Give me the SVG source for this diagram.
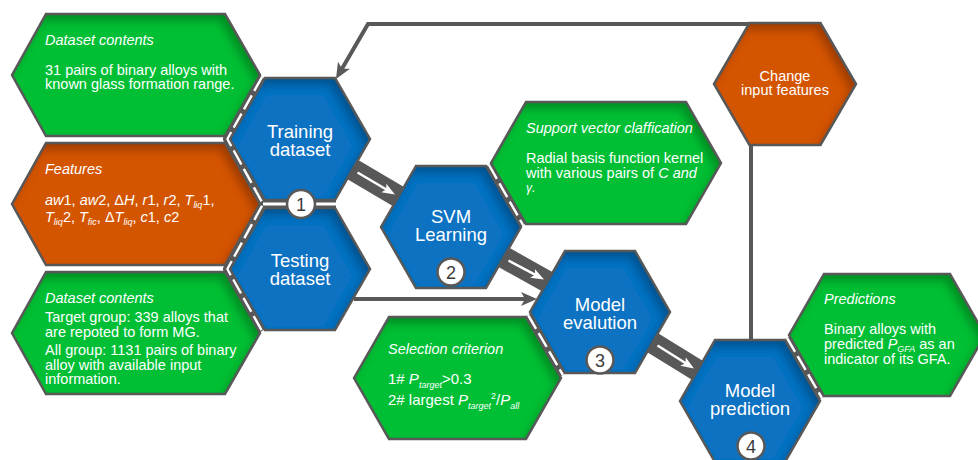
<svg xmlns="http://www.w3.org/2000/svg" width="978" height="460" viewBox="0 0 978 460">
<defs>
<style>
.blue{fill:#0a72c2}
.green{fill:#05bf36}
.orange{fill:#d45500}
.edge{fill:none;stroke:#585858;stroke-width:2.5;stroke-linejoin:miter}
.t{font-family:"Liberation Sans",Arial,sans-serif;fill:#fff}
.title{font-size:18.5px;text-anchor:middle}
.body{font-size:14.5px}
.it{font-style:italic}
.num{font-family:"Liberation Sans",Arial,sans-serif;font-size:18px;fill:#3a3a3a;text-anchor:middle}
.circ{fill:#fff;stroke:#585858;stroke-width:2.5}
.gap{fill:none;stroke:#585858;stroke-width:9;stroke-linejoin:round}
.gapw{fill:none;stroke:#fff;stroke-width:2.5;stroke-dasharray:16 5;stroke-linejoin:round}
.thick{stroke:#585858;stroke-width:22;fill:none}
.warr{stroke:#fff;stroke-width:2.5;fill:none;marker-end:url(#wh)}
.garr{stroke:#585858;stroke-width:4;fill:none;stroke-linejoin:miter}
</style>
<filter id="ish" x="-10%" y="-10%" width="120%" height="120%">
<feGaussianBlur in="SourceAlpha" stdDeviation="5" result="b"/>
<feOffset in="b" dx="-5" dy="7" result="o"/>
<feComposite in="SourceAlpha" in2="o" operator="out" result="inv"/>
<feFlood flood-color="#000" flood-opacity="0.5"/>
<feComposite in2="inv" operator="in" result="sh"/>
<feMerge><feMergeNode in="SourceGraphic"/><feMergeNode in="sh"/></feMerge>
</filter>
<marker id="wh" markerUnits="userSpaceOnUse" viewBox="0 0 14 12" markerWidth="14" markerHeight="12" refX="7" refY="6" orient="auto">
<path d="M0,1 L13,6 L0,11 L3,6 z" fill="#fff"/>
</marker>
<marker id="gh" markerUnits="userSpaceOnUse" viewBox="0 0 16 14" markerWidth="16" markerHeight="14" refX="9" refY="7" orient="auto">
<path d="M0,0 L16,7 L0,14 L4,7 z" fill="#585858"/>
</marker>
</defs>
<rect width="978" height="460" fill="#fff"/>

<g id="connectors">
<path class="gap" d="M262,77 L227.5,139 L263,204 L227.5,269 L262,331"/>
<path class="gapw" d="M262,77 L227.5,139 L263,204 L227.5,269 L262,331"/>
<path class="gap" d="M263,204 L336,204"/>
<path d="M263,204 L336,204" stroke="#fff" stroke-width="3" fill="none"/>
<path class="gap" d="M489,165 L523,225"/>
<path class="gapw" d="M489,165 L523,225"/>
<path class="gap" d="M528,315 L563,375"/>
<path class="gapw" d="M528,315 L563,375"/>
<path class="gap" d="M787,338 L822,398"/>
<path class="gapw" d="M787,338 L822,398"/>
<path class="thick" d="M345,165 L406,201"/>
<path class="thick" d="M496,253 L555,286"/>
<path class="thick" d="M645,338 L705,375"/>
<path class="warr" d="M357.5,172.5 L389.8,191.5"/>
<path class="warr" d="M508.5,260.5 L538.7,276.6"/>
<path class="warr" d="M657.5,345.5 L688.9,365.3"/>
<path class="garr" d="M751,24 L368,24 L339.5,73" marker-end="url(#gh)"/>
<path class="garr" d="M751,145 L751,341"/>
<path class="garr" stroke-width="3.5" d="M354,299 L530,299" marker-end="url(#gh)"/>
</g>

<g id="dataset-training-contents">
<polygon class="green" filter="url(#ish)" points="12,75 46,14 225,14 260,75 225,136 46,136"/>
<polygon class="edge" points="12,75 46,14 225,14 260,75 225,136 46,136"/>
<text class="t body it" x="45" y="45">Dataset contents</text>
<text class="t body" x="45" y="75">31 pairs of binary alloys with</text>
<text class="t body" x="45" y="89">known glass formation range.</text>
</g>

<g id="features">
<polygon class="orange" filter="url(#ish)" points="12,204 46,143 225,143 260,204 225,265 46,265"/>
<polygon class="edge" points="12,204 46,143 225,143 260,204 225,265 46,265"/>
<text class="t body it" x="45" y="174">Features</text>
<text class="t body" x="45" y="205"><tspan class="it">aw</tspan>1, <tspan class="it">aw</tspan>2, Δ<tspan class="it">H</tspan>, <tspan class="it">r</tspan>1, <tspan class="it">r</tspan>2, <tspan class="it">T</tspan><tspan class="it" font-size="9" dy="3">liq</tspan><tspan dy="-3">1,</tspan></text>
<text class="t body" x="45" y="222"><tspan class="it">T</tspan><tspan class="it" font-size="9" dy="3">liq</tspan><tspan dy="-3">2, </tspan><tspan class="it">T</tspan><tspan class="it" font-size="9" dy="3">fic</tspan><tspan dy="-3">, Δ</tspan><tspan class="it">T</tspan><tspan class="it" font-size="9" dy="3">liq</tspan><tspan dy="-3">, </tspan><tspan class="it">c</tspan>1, <tspan class="it">c</tspan>2</text>
</g>

<g id="dataset-testing-contents">
<polygon class="green" filter="url(#ish)" points="12,333 46,272 225,272 260,333 225,394 46,394"/>
<polygon class="edge" points="12,333 46,272 225,272 260,333 225,394 46,394"/>
<text class="t body it" x="45" y="303">Dataset contents</text>
<text class="t body" x="45" y="322">Target group: 339 alloys that</text>
<text class="t body" x="45" y="337">are repoted to form MG.</text>
<text class="t body" x="45" y="355">All group: 1131 pairs of binary</text>
<text class="t body" x="45" y="370">alloy with available input</text>
<text class="t body" x="45" y="384">information.</text>
</g>

<g id="testing-dataset">
<polygon class="blue" filter="url(#ish)" points="230,269 265,208 335,208 370,269 335,330 265,330"/>
<polygon class="edge" points="230,269 265,208 335,208 370,269 335,330 265,330"/>
<text class="t title" x="300" y="267">Testing</text>
<text class="t title" x="300" y="285">dataset</text>
</g>

<g id="training-dataset">
<polygon class="blue" filter="url(#ish)" points="230,139 265,78 335,78 370,139 335,200 265,200"/>
<polygon class="edge" points="230,139 265,78 335,78 370,139 335,200 265,200"/>
<text class="t title" x="300" y="138">Training</text>
<text class="t title" x="300" y="156">dataset</text>
<circle class="circ" cx="301" cy="204" r="14"/>
<text class="num" x="301" y="210.5">1</text>
</g>

<g id="svm-learning">
<polygon class="blue" filter="url(#ish)" points="381,227 416,166 486,166 521,227 486,288 416,288"/>
<polygon class="edge" points="381,227 416,166 486,166 521,227 486,288 416,288"/>
<text class="t title" x="451" y="223">SVM</text>
<text class="t title" x="451" y="241">Learning</text>
<circle class="circ" cx="451" cy="272" r="13.5"/>
<text class="num" x="451" y="278.5">2</text>
</g>

<g id="support-vector">
<polygon class="green" filter="url(#ish)" points="491,163 526,102 686,102 721,163 686,224 526,224"/>
<polygon class="edge" points="491,163 526,102 686,102 721,163 686,224 526,224"/>
<text class="t body it" x="526" y="133">Support vector claffication</text>
<text class="t body" x="526" y="163">Radial basis function kernel</text>
<text class="t body" x="526" y="178">with various pairs of <tspan class="it">C and</tspan></text>
<text class="t it" font-size="12" x="526" y="192">γ.</text>
</g>

<g id="model-evaluation">
<polygon class="blue" filter="url(#ish)" points="530,312 565,251 635,251 670,312 635,373 565,373"/>
<polygon class="edge" points="530,312 565,251 635,251 670,312 635,373 565,373"/>
<text class="t title" x="600" y="311">Model</text>
<text class="t title" x="600" y="329">evalution</text>
<circle class="circ" cx="600" cy="360" r="13.5"/>
<text class="num" x="600" y="366.5">3</text>
</g>

<g id="selection-criterion">
<polygon class="green" filter="url(#ish)" points="354,378 389,317 526,317 561,378 526,439 389,439"/>
<polygon class="edge" points="354,378 389,317 526,317 561,378 526,439 389,439"/>
<text class="t body it" x="388" y="354">Selection criterion</text>
<text class="t" font-size="15" x="388" y="384">1# <tspan class="it">P</tspan><tspan class="it" font-size="9" dy="4">target</tspan><tspan dy="-4">&gt;0.3</tspan></text>
<text class="t" font-size="15" x="388" y="405">2# largest <tspan class="it">P</tspan><tspan class="it" font-size="9" dy="4">target</tspan><tspan font-size="9" dy="-10">2</tspan><tspan dy="6">/</tspan><tspan class="it">P</tspan><tspan class="it" font-size="9" dy="4">all</tspan></text>
</g>

<g id="change-input-features">
<polygon class="orange" filter="url(#ish)" points="714,84 749.5,23 820.5,23 856,84 820.5,145 749.5,145"/>
<polygon class="edge" points="714,84 749.5,23 820.5,23 856,84 820.5,145 749.5,145"/>
<text class="t body" text-anchor="middle" x="785" y="81">Change</text>
<text class="t body" text-anchor="middle" x="785" y="95">input features</text>
</g>

<g id="model-prediction">
<polygon class="blue" filter="url(#ish)" points="680,401 715,340 785,340 820,401 785,462 715,462"/>
<polygon class="edge" points="680,401 715,340 785,340 820,401 785,462 715,462"/>
<text class="t title" x="750" y="397">Model</text>
<text class="t title" x="750" y="415">prediction</text>
<circle class="circ" cx="751" cy="446" r="13.5"/>
<text class="num" x="751" y="452.5">4</text>
</g>

<g id="predictions">
<polygon class="green" filter="url(#ish)" points="789,335 824,274 950,274 985,335 950,396 824,396"/>
<polygon class="edge" points="789,335 824,274 950,274 985,335 950,396 824,396"/>
<text class="t body it" x="824" y="304">Predictions</text>
<text class="t body" x="824" y="334">Binary alloys with</text>
<text class="t body" x="824" y="349">predicted <tspan class="it">P</tspan><tspan class="it" font-size="9" dy="3">GFA</tspan><tspan dy="-3"> as an</tspan></text>
<text class="t body" x="824" y="364">indicator of its GFA.</text>
</g>
</svg>
